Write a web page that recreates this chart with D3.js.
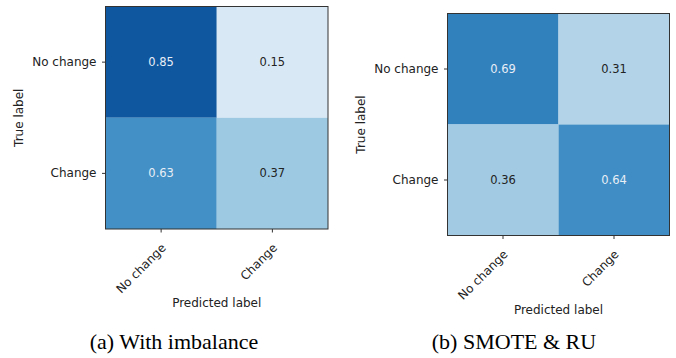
<!DOCTYPE html>
<html>
<head>
<meta charset="utf-8">
<script src="https://cdn.jsdelivr.net/npm/d3@7"></script>
<style>
  body { margin: 0; background: #fff; }
  svg { display: block; }
</style>
</head>
<body>
<svg id="chart" width="676" height="358"></svg>
<script>
const classes = ["No change", "Change"];
const matrixA = [[0.85, 0.15], [0.63, 0.37]];
const matrixB = [[0.69, 0.31], [0.36, 0.64]];
const captions = ["(a) With imbalance", "(b) SMOTE & RU"];

const TICK_FONT = "DejaVu Sans, sans-serif";
const TICK_SIZE = 3.5;
const LABEL_FONT_SIZE = "12px";
const CELL_FONT_SIZE = "11.5px";

const svg = d3.select("#chart");
const color = d3.scaleSequential(d3.interpolateBlues).domain([0, 1]);

// one panel per matrix: box position, caption centre
const panels = [
    { matrix: matrixA, caption: captions[0], x: 105.5, y: 6.5, size: 222.5, capX: 174, capY: 349 },
    { matrix: matrixB, caption: captions[1], x: 447.5, y: 13.5, size: 222, capX: 514, capY: 349 }
];

panels.forEach(p => drawMatrix(p));

function drawMatrix(p) {
    const g = svg.append("g");
    const x = d3.scaleBand().domain(classes).range([p.x, p.x + p.size]);
    const y = d3.scaleBand().domain(classes).range([p.y, p.y + p.size]);

    const cells = [];
    p.matrix.forEach((row, i) => row.forEach((v, j) => cells.push({ t: classes[i], pr: classes[j], v })));

    g.selectAll("rect.cell")
        .data(cells)
        .enter()
        .append("rect")
        .attr("class", "cell")
        .attr("x", d => x(d.pr))
        .attr("y", d => y(d.t))
        .attr("width", x.bandwidth())
        .attr("height", y.bandwidth())
        .attr("fill", d => color(d.v));

    g.selectAll("text.val")
        .data(cells)
        .enter()
        .append("text")
        .attr("class", "val")
        .attr("x", d => x(d.pr) + x.bandwidth() / 2)
        .attr("y", d => y(d.t) + y.bandwidth() / 2)
        .attr("dy", "0.35em")
        .attr("text-anchor", "middle")
        .attr("font-family", TICK_FONT)
        .attr("font-size", CELL_FONT_SIZE)
        .attr("fill", d => d.v > 0.5 ? "#e8eef6" : "#222")
        .text(d => d.v.toFixed(2));

    // frame
    g.append("rect")
        .attr("x", p.x)
        .attr("y", p.y)
        .attr("width", p.size)
        .attr("height", p.size)
        .attr("fill", "none")
        .attr("stroke", "#333")
        .attr("stroke-width", 1);

    // y axis
    const yAxis = g.append("g")
        .attr("transform", `translate(${ p.x },0)`)
        .call(d3.axisLeft(y).tickSize(TICK_SIZE).tickPadding(5.5));
    yAxis.select(".domain").remove();
    yAxis.selectAll("text")
        .attr("font-family", TICK_FONT)
        .attr("font-size", LABEL_FONT_SIZE)
        .attr("fill", "#222");
    yAxis.selectAll("line").attr("stroke", "#333");

    // x axis with rotated labels
    const xAxis = g.append("g")
        .attr("transform", `translate(0,${ p.y + p.size })`)
        .call(d3.axisBottom(x).tickSize(TICK_SIZE).tickPadding(3));
    xAxis.select(".domain").remove();
    xAxis.selectAll("line").attr("stroke", "#333");
    xAxis.selectAll("text")
        .attr("font-family", TICK_FONT)
        .attr("font-size", LABEL_FONT_SIZE)
        .attr("fill", "#222")
        .attr("text-anchor", "end")
        .attr("dy", "0.35em")
        .attr("transform", "translate(-2,12) rotate(-45)");

    // axis titles
    g.append("text")
        .attr("transform", `translate(${ p.x - 83 },${ p.y + p.size / 2 }) rotate(-90)`)
        .attr("text-anchor", "middle")
        .attr("font-family", TICK_FONT)
        .attr("font-size", LABEL_FONT_SIZE)
        .attr("fill", "#222")
        .text("True label");

    g.append("text")
        .attr("x", p.x + p.size / 2)
        .attr("y", p.y + p.size + 78)
        .attr("text-anchor", "middle")
        .attr("font-family", TICK_FONT)
        .attr("font-size", LABEL_FONT_SIZE)
        .attr("fill", "#222")
        .text("Predicted label");

    // caption
    svg.append("text")
        .attr("x", p.capX)
        .attr("y", p.capY)
        .attr("text-anchor", "middle")
        .attr("font-family", "Liberation Serif, Times New Roman, serif")
        .attr("font-size", "22px")
        .attr("fill", "#000")
        .text(p.caption);
}
</script>
</body>
</html>
